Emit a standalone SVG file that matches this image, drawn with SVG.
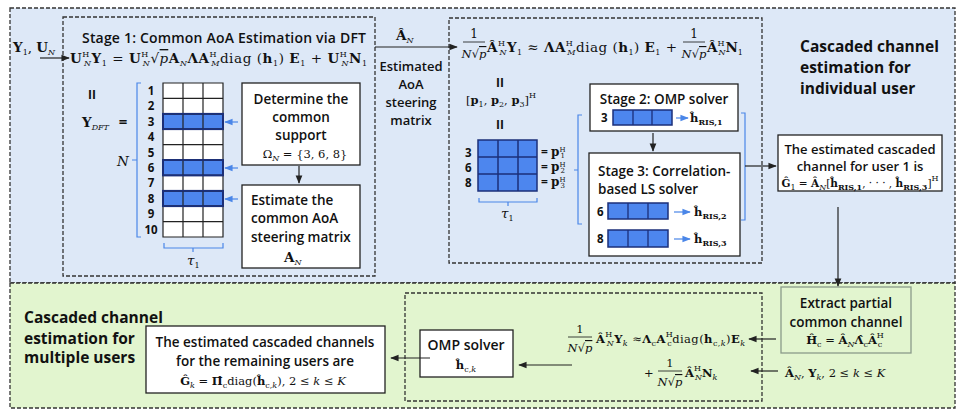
<svg xmlns="http://www.w3.org/2000/svg" width="969" height="415" viewBox="0 0 969 415">
<defs>
<marker id="ah" viewBox="0 0 10 10" refX="9" refY="5" markerWidth="7" markerHeight="7" orient="auto-start-reverse"><path d="M0,1 L10,5 L0,9 z" fill="#222"/></marker>
<marker id="ahb" viewBox="0 0 10 10" refX="9" refY="5" markerWidth="7" markerHeight="7" orient="auto-start-reverse"><path d="M0,1 L10,5 L0,9 z" fill="#4a86e8"/></marker>
<style>
.t{font-family:"Open Sans","Liberation Sans",sans-serif;font-weight:600;font-size:13px;fill:#111}
.h{font-family:"Open Sans","Liberation Sans",sans-serif;font-weight:700;font-size:15.5px;fill:#111}
.m{font-family:"DejaVu Serif","Liberation Serif",serif;font-size:13.5px;fill:#111}
.ms{font-family:"DejaVu Serif","Liberation Serif",serif;font-size:11.5px;fill:#111}
.b{font-weight:700}
.i{font-style:italic}
.sb{font-size:8px;baseline-shift:-3px}
.sp{font-size:8px;baseline-shift:6px}
.sb2{font-size:7px;baseline-shift:-1.5px}
.sp2{font-size:7px;baseline-shift:4px}
.dash{fill:none;stroke:#333;stroke-width:1.3;stroke-dasharray:4 2}
.box{fill:#fff;stroke:#222;stroke-width:1.3}
.cell{fill:#4d86ee;stroke:#1b2f7a;stroke-width:1.5}
.gl{stroke:#222;stroke-width:1.2;fill:none}
.con{stroke:#222;stroke-width:1.2;fill:none}
.cb{stroke:#4a86e8;stroke-width:1.2;fill:none}
.n{font-family:"Open Sans","Liberation Sans",sans-serif;font-weight:700;font-size:11.5px;fill:#111}
</style>
</defs>

<!-- backgrounds -->
<rect x="10" y="8" width="945" height="275" fill="#dde8f7"/>
<rect x="10" y="8" width="945" height="275" class="dash"/>
<rect x="10" y="283" width="945" height="125" fill="#e2f5cf"/>
<rect x="10" y="283" width="945" height="125" class="dash"/>

<!-- region titles -->
<g id="title-individual">
<text class="h" x="800" y="52">Cascaded channel</text>
<text class="h" x="800" y="73">estimation for</text>
<text class="h" x="800" y="94">individual user</text>
</g>
<g id="title-multiple">
<text class="h" x="24" y="323">Cascaded channel</text>
<text class="h" x="24" y="344">estimation for</text>
<text class="h" x="24" y="363">multiple users</text>
</g>

<!-- input label -->
<g id="input-y1">
<text class="m" x="13" y="52"><tspan class="b">Y</tspan><tspan class="sb">1</tspan><tspan>, </tspan><tspan class="b">U</tspan><tspan class="sb i">N</tspan></text>
</g>

<!-- Stage 1 -->
<g id="stage1">
<rect x="63" y="17" width="312" height="259" class="dash"/>
<text class="t" x="82" y="43" style="font-size:14px" textLength="284">Stage 1: Common AoA Estimation via DFT</text>
<text class="m" x="70" y="63" textLength="297"><tspan class="b">U</tspan><tspan class="sp">H</tspan><tspan class="sb i" dx="-6">N</tspan><tspan class="b">Y</tspan><tspan class="sb">1</tspan><tspan> = </tspan><tspan class="b">U</tspan><tspan class="sp">H</tspan><tspan class="sb i" dx="-6">N</tspan><tspan>√</tspan><tspan class="i" text-decoration="overline">p</tspan><tspan class="b">A</tspan><tspan class="sb i">N</tspan><tspan class="b">ΛA</tspan><tspan class="sp">H</tspan><tspan class="sb i" dx="-6">M</tspan><tspan>diag (</tspan><tspan class="b">h</tspan><tspan class="sb">1</tspan><tspan>) </tspan><tspan class="b">E</tspan><tspan class="sb">1</tspan><tspan> + </tspan><tspan class="b">U</tspan><tspan class="sp">H</tspan><tspan class="sb i" dx="-6">N</tspan><tspan class="b">N</tspan><tspan class="sb">1</tspan></text>
<text class="n" x="88" y="99" style="font-size:12px">II</text>
<text class="m" x="82" y="127"><tspan class="b">Y</tspan><tspan class="sb i">DFT</tspan><tspan class="n" dx="6" style="font-size:15px"> =</tspan></text>
<!-- bracket N -->
<path d="M141,83 H137 V237 H141 M137,160 H132" class="cb"/>
<text class="m i" x="117" y="166">N</text>
<!-- grid -->
<rect x="163" y="83" width="60" height="154" fill="#fff"/>
<rect x="163" y="113.8" width="60" height="15.4" class="cell"/>
<rect x="163" y="160" width="60" height="15.4" class="cell"/>
<rect x="163" y="190.8" width="60" height="15.4" class="cell"/>
<path class="gl" d="M163,83 H223 V237 H163 Z M183,83 V237 M203,83 V237 M163,98.4 H223 M163,113.8 H223 M163,129.2 H223 M163,144.6 H223 M163,160 H223 M163,175.4 H223 M163,190.8 H223 M163,206.2 H223 M163,221.6 H223"/>
<rect x="163" y="113.8" width="60" height="15.4" fill="none" stroke="#1b2f7a" stroke-width="1.8"/>
<rect x="163" y="160" width="60" height="15.4" fill="none" stroke="#1b2f7a" stroke-width="1.8"/>
<rect x="163" y="190.8" width="60" height="15.4" fill="none" stroke="#1b2f7a" stroke-width="1.8"/>
<g class="n" text-anchor="middle">
<text x="151" y="95">1</text><text x="151" y="110">2</text><text x="151" y="126">3</text><text x="151" y="141">4</text><text x="151" y="157">5</text><text x="151" y="172">6</text><text x="151" y="187">7</text><text x="151" y="203">8</text><text x="151" y="218">9</text><text x="151" y="234">10</text>
</g>
<path d="M164,243 V248 H223 V243 M193,248 V252" class="cb"/>
<text class="m i" x="187" y="265">τ<tspan class="sb" style="font-style:normal">1</tspan></text>
</g>

<g id="determine-support">
<rect x="242" y="83" width="118" height="82" class="box"/>
<g class="t" text-anchor="middle" style="font-size:13.5px">
<text x="301" y="104">Determine the</text>
<text x="301" y="122">common</text>
<text x="301" y="140">support</text>
</g>
<text class="ms" x="305" y="158" text-anchor="middle">Ω<tspan class="sb i">N</tspan> = {3, 6, 8}</text>
</g>

<g id="estimate-steering">
<rect x="242" y="185" width="118" height="83" class="box"/>
<g class="t" style="font-size:13.5px">
<text x="251" y="205">Estimate the</text>
<text x="251" y="223">common AoA</text>
<text x="251" y="242">steering matrix</text>
</g>
<text class="m" x="284" y="262"><tspan class="b">A</tspan><tspan class="sb i">N</tspan></text>
</g>

<!-- Estimated AoA label -->
<g id="aoa-label">
<text class="m" x="396" y="40"><tspan class="b">Â</tspan><tspan class="sb i">N</tspan></text>
<g class="t" text-anchor="middle" style="font-size:13px">
<text x="411" y="71">Estimated</text>
<text x="411" y="89">AoA</text>
<text x="411" y="107">steering</text>
<text x="411" y="125">matrix</text>
</g>
</g>

<!-- Stage 2/3 region -->
<g id="stage23">
<rect x="449" y="18" width="313" height="245" class="dash"/>
<!-- eq2 -->
<g class="m">
<text x="474" y="38" text-anchor="middle" style="font-size:12px">1</text>
<line x1="463" y1="42" x2="485" y2="42" stroke="#111" stroke-width="0.8"/>
<text x="474" y="58" text-anchor="middle" style="font-size:11.5px"><tspan class="i">N</tspan>√<tspan class="i" text-decoration="overline">p</tspan></text>
<text x="487" y="52" textLength="190"><tspan class="b">Â</tspan><tspan class="sp">H</tspan><tspan class="sb i" dx="-6">N</tspan><tspan class="b">Y</tspan><tspan class="sb">1</tspan><tspan> ≈ </tspan><tspan class="b">ΛA</tspan><tspan class="sp">H</tspan><tspan class="sb i" dx="-6">M</tspan><tspan>diag (</tspan><tspan class="b">h</tspan><tspan class="sb">1</tspan><tspan>) </tspan><tspan class="b">E</tspan><tspan class="sb">1</tspan><tspan> +</tspan></text>
<text x="694" y="38" text-anchor="middle" style="font-size:12px">1</text>
<line x1="683" y1="42" x2="705" y2="42" stroke="#111" stroke-width="0.8"/>
<text x="694" y="58" text-anchor="middle" style="font-size:11.5px"><tspan class="i">N</tspan>√<tspan class="i" text-decoration="overline">p</tspan></text>
<text x="707" y="52"><tspan class="b">Â</tspan><tspan class="sp">H</tspan><tspan class="sb i" dx="-6">N</tspan><tspan class="b">N</tspan><tspan class="sb">1</tspan></text>
</g>
<text class="n" x="496" y="87" style="font-size:12px">II</text>
<text class="ms" x="501" y="104" text-anchor="middle">[<tspan class="b">p</tspan><tspan class="sb">1</tspan>, <tspan class="b">p</tspan><tspan class="sb">2</tspan>, <tspan class="b">p</tspan><tspan class="sb">3</tspan>]<tspan class="sp">H</tspan></text>
<text class="n" x="496" y="129" style="font-size:12px">II</text>
<!-- 3x3 matrix -->
<rect x="478" y="140" width="59" height="51" class="cell"/>
<path d="M498,140 V191 M518,140 V191 M478,157 H537 M478,174 H537" stroke="#1b2f7a" stroke-width="1.5"/>
<g class="n"><text x="465" y="157">3</text><text x="465" y="172">6</text><text x="465" y="187">8</text></g>
<g class="m" style="font-size:12px">
<text x="541" y="156"><tspan class="n" style="font-size:12px">= </tspan><tspan class="b">p</tspan><tspan class="sp2">H</tspan><tspan class="sb2" dx="-5">1</tspan></text>
<text x="541" y="171"><tspan class="n" style="font-size:12px">= </tspan><tspan class="b">p</tspan><tspan class="sp2">H</tspan><tspan class="sb2" dx="-5">2</tspan></text>
<text x="541" y="186"><tspan class="n" style="font-size:12px">= </tspan><tspan class="b">p</tspan><tspan class="sp2">H</tspan><tspan class="sb2" dx="-5">3</tspan></text>
</g>
<path d="M479,198 V202 H537 V198 M508,202 V206" class="cb"/>
<text class="m i" x="501" y="218">τ<tspan class="sb" style="font-style:normal">1</tspan></text>
<!-- brackets -->
<path d="M582,115 H578 V224 H582 M578,170 H574" class="cb"/>
<path d="M741,113 H745 V220 H741" class="cb"/>
</g>

<g id="stage2-omp">
<rect x="590" y="84" width="148" height="47" class="box"/>
<text class="t" x="664" y="104" text-anchor="middle" style="font-size:13.5px">Stage 2: OMP solver</text>
<text class="n" x="601" y="122">3</text>
<rect x="613" y="110" width="59" height="15" class="cell"/>
<path d="M633,110 V125 M652,110 V125" stroke="#1b2f7a" stroke-width="1.3"/>
<line x1="676" y1="118" x2="688" y2="118" class="cb" marker-end="url(#ahb)"/>
<text class="ms" x="690" y="122"><tspan class="b">ĥ</tspan><tspan class="sb b">RIS,1</tspan></text>
</g>

<g id="stage3-ls">
<rect x="589" y="153" width="151" height="103" class="box"/>
<text class="t" x="598" y="176" style="font-size:13.5px">Stage 3: Correlation-</text>
<text class="t" x="598" y="194" style="font-size:13.5px">based LS solver</text>
<text class="n" x="597" y="216">6</text>
<rect x="608" y="203" width="60" height="16" class="cell"/>
<path d="M628,203 V219 M648,203 V219" stroke="#1b2f7a" stroke-width="1.3"/>
<line x1="674" y1="212" x2="690" y2="212" class="cb" marker-end="url(#ahb)"/>
<text class="ms" x="694" y="216"><tspan class="b">ĥ</tspan><tspan class="sb b">RIS,2</tspan></text>
<text class="n" x="597" y="243">8</text>
<rect x="608" y="230" width="60" height="17" class="cell"/>
<path d="M628,230 V247 M648,230 V247" stroke="#1b2f7a" stroke-width="1.3"/>
<line x1="674" y1="239" x2="690" y2="239" class="cb" marker-end="url(#ahb)"/>
<text class="ms" x="694" y="243"><tspan class="b">ĥ</tspan><tspan class="sb b">RIS,3</tspan></text>
</g>

<g id="user1-result">
<rect x="778" y="135" width="164" height="56" class="box"/>
<g class="t" text-anchor="middle" style="font-size:13px">
<text x="860" y="154">The estimated cascaded</text>
<text x="860" y="171">channel for user 1 is</text>
</g>
<text class="ms" x="860" y="187" text-anchor="middle" style="font-size:10.5px"><tspan class="b">Ĝ</tspan><tspan class="sb">1</tspan> = <tspan class="b">Â</tspan><tspan class="sb i">N</tspan>[<tspan class="b">ĥ</tspan><tspan class="sb b">RIS,1</tspan>, · · · , <tspan class="b">ĥ</tspan><tspan class="sb b">RIS,3</tspan>]<tspan class="sp">H</tspan></text>
</g>

<g id="extract-common">
<rect x="781" y="287" width="130" height="66" fill="#e2f5cf" stroke="#8a9a8a" stroke-width="1.3"/>
<g class="t" text-anchor="middle" style="font-size:13.5px">
<text x="846" y="308">Extract partial</text>
<text x="846" y="327">common channel</text>
</g>
<text class="ms" x="845" y="344" text-anchor="middle"><tspan class="b">Ĥ</tspan><tspan class="sb">c</tspan> = <tspan class="b">Â</tspan><tspan class="sb i">N</tspan><tspan class="b">Λ̂</tspan><tspan class="sb">c</tspan><tspan class="b">Â</tspan><tspan class="sp">H</tspan><tspan class="sb" dx="-6">c</tspan></text>
</g>

<g id="inputs-k">
<text class="ms" x="785" y="377"><tspan class="b">Â</tspan><tspan class="sb i">N</tspan>, <tspan class="b">Y</tspan><tspan class="sb i">k</tspan>, 2 ≤ <tspan class="i">k</tspan> ≤ <tspan class="i">K</tspan></text>
</g>

<g id="multi-user-eq">
<rect x="405" y="293" width="357" height="108" class="dash"/>
<g class="ms">
<text x="580" y="333" text-anchor="middle">1</text>
<line x1="568" y1="337" x2="592" y2="337" stroke="#111" stroke-width="0.8"/>
<text x="580" y="352" text-anchor="middle"><tspan class="i">N</tspan>√<tspan class="i" text-decoration="overline">p</tspan></text>
<text x="596" y="343" textLength="149"><tspan class="b">Â</tspan><tspan class="sp">H</tspan><tspan class="sb i" dx="-6">N</tspan><tspan class="b">Y</tspan><tspan class="sb i">k</tspan> ≈<tspan class="b">Λ</tspan><tspan class="sb">c</tspan><tspan class="b">A</tspan><tspan class="sp">H</tspan><tspan class="sb" dx="-6">c</tspan>diag(<tspan class="b">h</tspan><tspan class="sb">c,<tspan class="i">k</tspan></tspan>)<tspan class="b">E</tspan><tspan class="sb i">k</tspan></text>
<text x="644" y="377">+</text>
<text x="670" y="367" text-anchor="middle">1</text>
<line x1="658" y1="371" x2="682" y2="371" stroke="#111" stroke-width="0.8"/>
<text x="670" y="386" text-anchor="middle"><tspan class="i">N</tspan>√<tspan class="i" text-decoration="overline">p</tspan></text>
<text x="685" y="377"><tspan class="b">Â</tspan><tspan class="sp">H</tspan><tspan class="sb i" dx="-6">N</tspan><tspan class="b">N</tspan><tspan class="sb i">k</tspan></text>
</g>
</g>

<g id="omp-solver">
<rect x="420" y="330" width="93" height="47" class="box"/>
<text class="t" x="466" y="350" text-anchor="middle" style="font-size:14px">OMP solver</text>
<text class="ms" x="466" y="369" text-anchor="middle"><tspan class="b">ĥ</tspan><tspan class="sb">c,<tspan class="i">k</tspan></tspan></text>
</g>

<g id="multi-result">
<rect x="146" y="326" width="239" height="67" class="box"/>
<g class="t" text-anchor="middle" style="font-size:13.5px">
<text x="265" y="347">The estimated cascaded channels</text>
<text x="265" y="366">for the remaining users are</text>
</g>
<text class="ms" x="263" y="385" text-anchor="middle"><tspan class="b">Ĝ</tspan><tspan class="sb i">k</tspan> = <tspan class="b">Π̂</tspan><tspan class="sb">c</tspan>diag(<tspan class="b">ĥ</tspan><tspan class="sb">c,<tspan class="i">k</tspan></tspan>), 2 ≤ <tspan class="i">k</tspan> ≤ <tspan class="i">K</tspan></text>
</g>

<!-- connectors -->
<g id="connectors">
<line x1="40" y1="58" x2="69" y2="58" class="con" marker-end="url(#ah)"/>
<line x1="375" y1="47" x2="457" y2="47" class="con" marker-end="url(#ah)"/>
<line x1="238" y1="122" x2="225" y2="122" class="cb" marker-end="url(#ahb)"/>
<line x1="238" y1="168" x2="225" y2="168" class="cb" marker-end="url(#ahb)"/>
<line x1="238" y1="199" x2="225" y2="199" class="cb" marker-end="url(#ahb)"/>
<line x1="299" y1="166" x2="299" y2="183" class="con" marker-end="url(#ah)"/>
<line x1="653" y1="133" x2="653" y2="151" class="con" marker-end="url(#ah)"/>
<line x1="745" y1="166" x2="776" y2="166" class="con" marker-end="url(#ah)"/>
<line x1="838" y1="207" x2="838" y2="286" class="con" marker-end="url(#ah)"/>
<line x1="776" y1="339" x2="749" y2="339" class="con" marker-end="url(#ah)"/>
<line x1="778" y1="371" x2="751" y2="371" class="con" marker-end="url(#ah)"/>
<line x1="572" y1="365" x2="519" y2="365" class="con" marker-end="url(#ah)"/>
<line x1="430" y1="358" x2="391" y2="358" class="con" marker-end="url(#ah)"/>
</g>
</svg>
